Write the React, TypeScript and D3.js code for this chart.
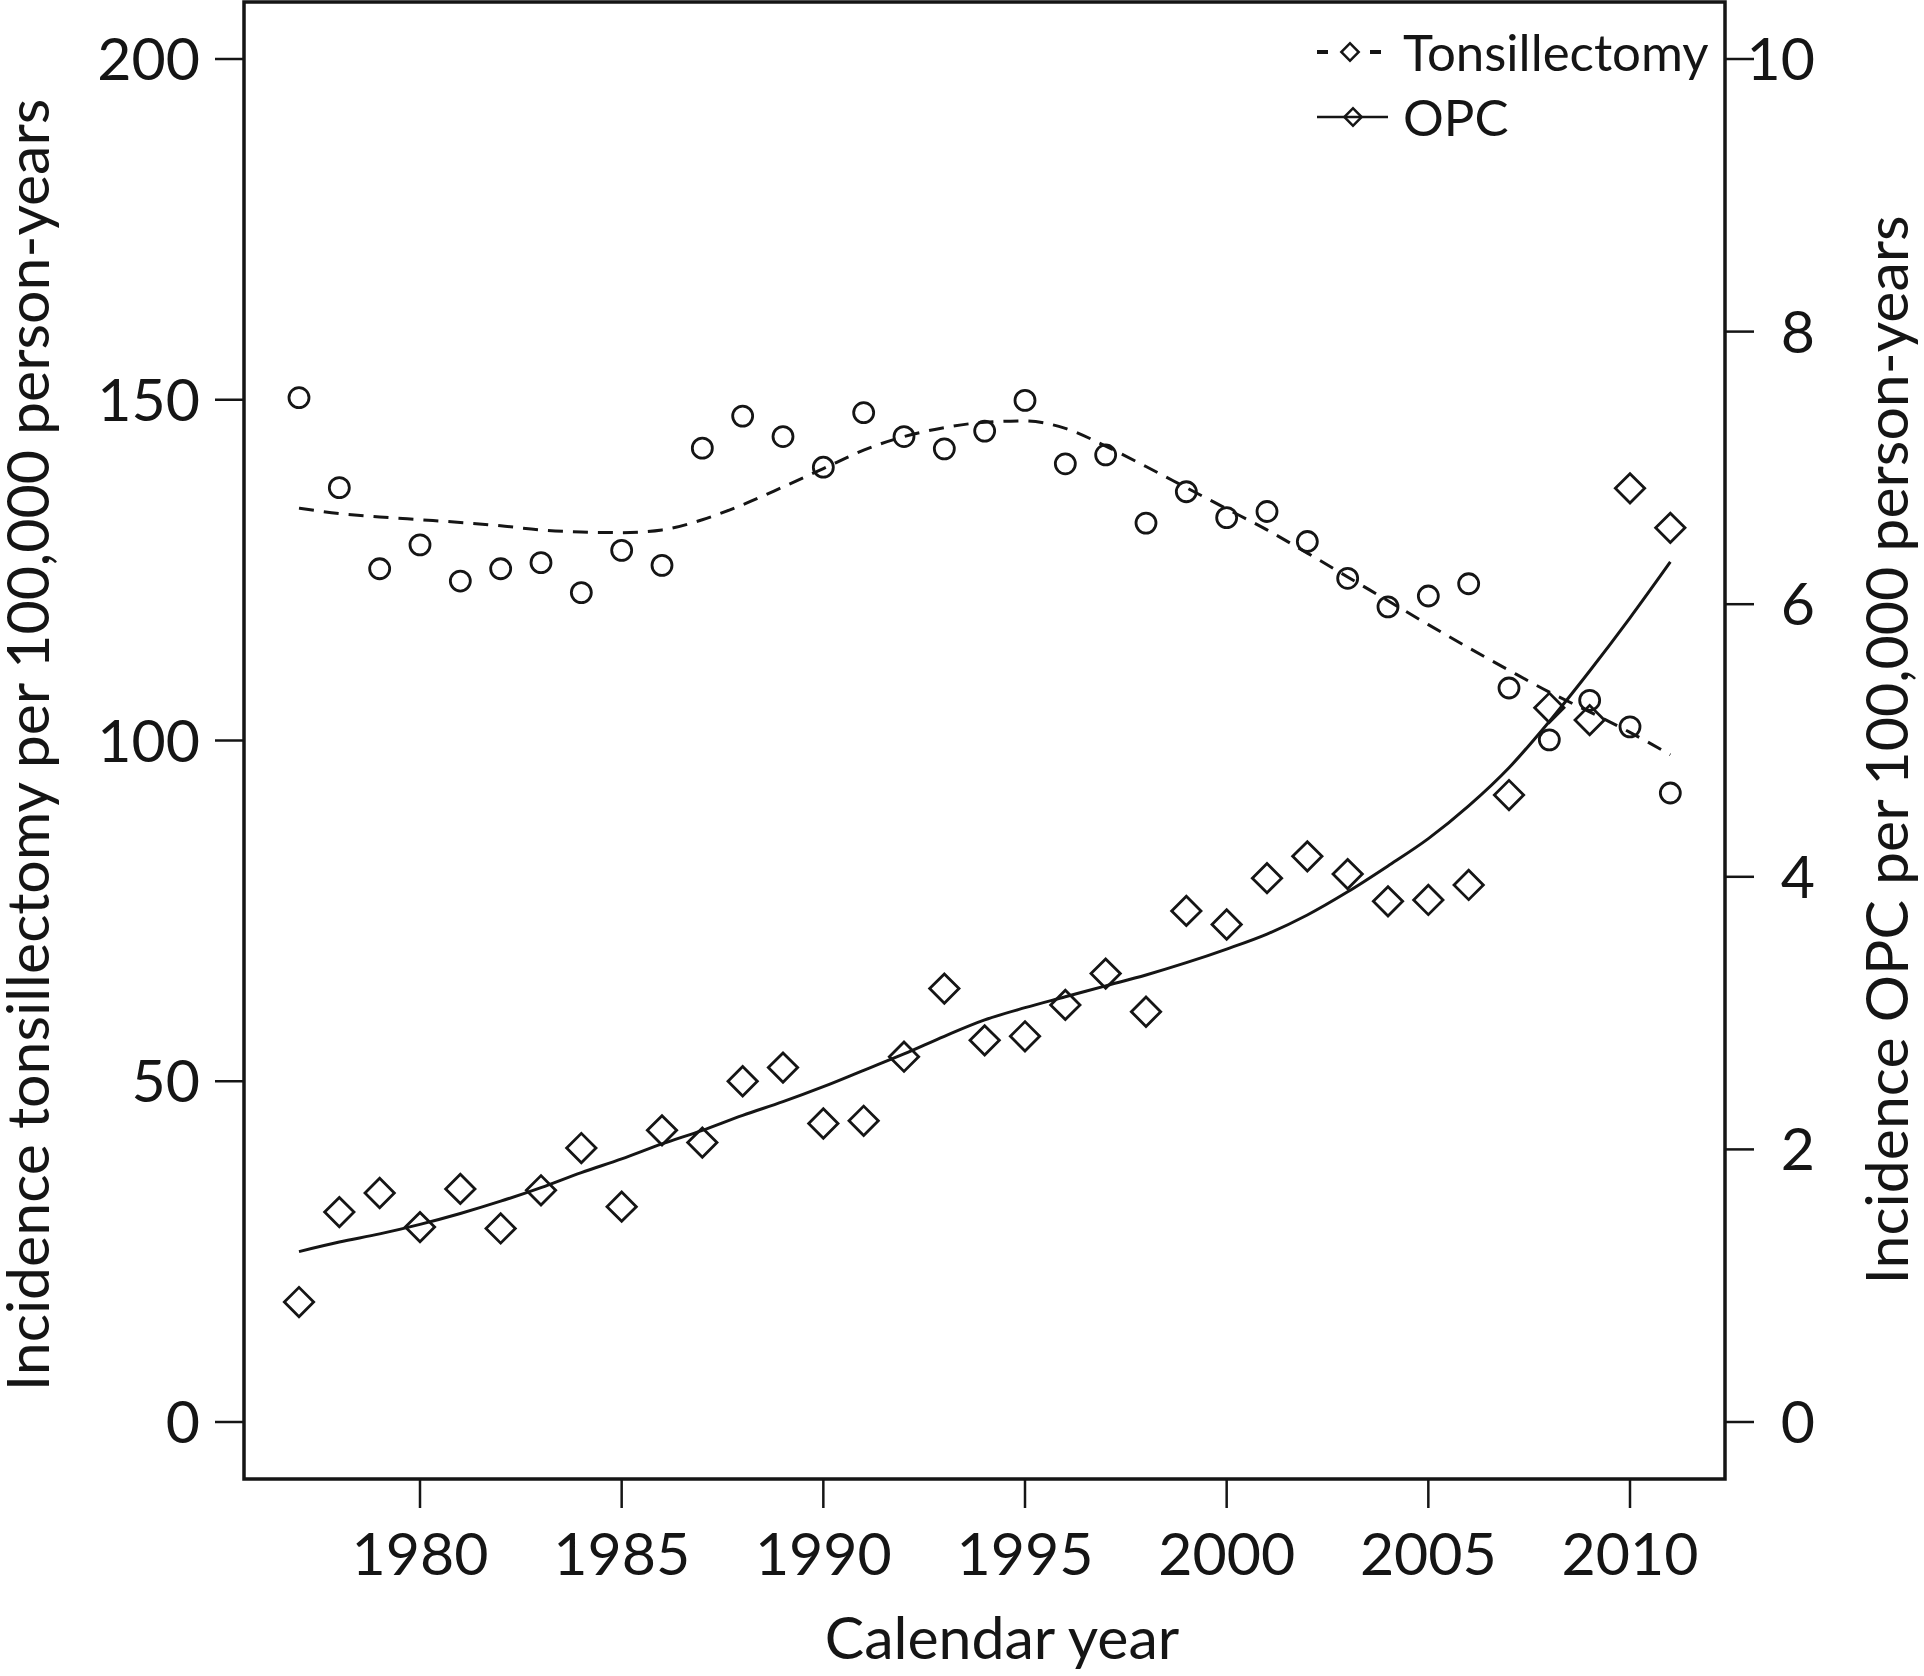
import React from 'react';
import * as d3 from 'd3';

const years = [1977, 1978, 1979, 1980, 1981, 1982, 1983, 1984, 1985, 1986, 1987, 1988, 1989, 1990, 1991, 1992, 1993, 1994, 1995, 1996, 1997, 1998, 1999, 2000, 2001, 2002, 2003, 2004, 2005, 2006, 2007, 2008, 2009, 2010, 2011];

// Tonsillectomy incidence per 100,000 person-years (left axis)
const tonsilObserved = [150.3, 137.1, 125.2, 128.7, 123.4, 125.2, 126.1, 121.7, 127.9, 125.7, 142.9, 147.6, 144.6, 140.1, 148.1, 144.6, 142.8, 145.4, 149.9, 140.6, 141.9, 131.9, 136.5, 132.7, 133.6, 129.2, 123.8, 119.6, 121.2, 123.0, 107.7, 100.1, 105.9, 102.0, 92.3];
const tonsilSmooth = [134.1, 133.3, 132.8, 132.4, 132.0, 131.5, 130.9, 130.6, 130.5, 130.9, 132.4, 134.6, 137.2, 139.9, 142.6, 144.6, 145.9, 146.7, 146.9, 145.8, 143.2, 140.2, 137.1, 134.0, 130.9, 127.5, 124.0, 120.5, 117.0, 113.6, 110.3, 107.1, 104.2, 101.2, 97.9];

// OPC incidence per 100,000 person-years (right axis)
const opcObserved = [0.88, 1.54, 1.68, 1.43, 1.71, 1.42, 1.70, 2.01, 1.58, 2.14, 2.05, 2.50, 2.60, 2.19, 2.21, 2.68, 3.18, 2.80, 2.83, 3.06, 3.29, 3.01, 3.75, 3.65, 3.99, 4.15, 4.02, 3.82, 3.83, 3.94, 4.60, 5.24, 5.15, 6.85, 6.56];
const opcSmooth = [1.25, 1.32, 1.38, 1.45, 1.53, 1.62, 1.72, 1.83, 1.93, 2.04, 2.14, 2.25, 2.35, 2.46, 2.58, 2.70, 2.83, 2.95, 3.04, 3.12, 3.20, 3.28, 3.37, 3.47, 3.58, 3.72, 3.89, 4.08, 4.28, 4.52, 4.80, 5.14, 5.51, 5.90, 6.31];

const xTicks = [1980, 1985, 1990, 1995, 2000, 2005, 2010];
const leftTicks = [0, 50, 100, 150, 200];
const rightTicks = [0, 2, 4, 6, 8, 10];

const xTitle = 'Calendar year';
const leftTitle = 'Incidence tonsillectomy per 100,000 person-years';
const rightTitle = 'Incidence OPC per 100,000 person-years';
const legendLabels = ['Tonsillectomy', 'OPC'];

export default function App() {
  const W = 1924, H = 1676;
  const frame = { left: 244, right: 1725, top: 2, bottom: 1479 };
  const x = d3.scaleLinear().domain([1980, 2010]).range([420, 1630]);
  const yL = d3.scaleLinear().domain([0, 200]).range([1422, 59]);
  const yR = d3.scaleLinear().domain([0, 10]).range([1422, 59]);

  const ink = '#151515';
  const font = 'Lato, "Open Sans", sans-serif';
  const fs = 59;
  const tick = 29;

  const tonsilLine = d3.line<number>()
    .x((_, i) => x(years[i]))
    .y((d) => yL(d))
    .curve(d3.curveMonotoneX)(tonsilSmooth) || '';
  const opcLine = d3.line<number>()
    .x((_, i) => x(years[i]))
    .y((d) => yR(d))
    .curve(d3.curveMonotoneX)(opcSmooth) || '';

  const diamond = d3.symbol(d3.symbolSquare, 430)() || '';
  const smallDiamond = d3.symbol(d3.symbolSquare, 150)() || '';

  return (
    <svg width={W} height={H} style={{ position: 'absolute', left: 0, top: 0, background: '#fff' }}
      fontFamily={font} fill={ink}>
      <rect x={0} y={0} width={W} height={H} fill="#fff" />

      {/* smooth lines */}
      <path d={tonsilLine} fill="none" stroke={ink} strokeWidth={3} strokeDasharray="15 10" />
      <path d={opcLine} fill="none" stroke={ink} strokeWidth={3} />

      {/* tonsillectomy circles */}
      {tonsilObserved.map((v, i) => (
        <circle key={'t' + i} cx={x(years[i])} cy={yL(v)} r={10} fill="none" stroke={ink} strokeWidth={2.8} />
      ))}
      {/* OPC diamonds */}
      {opcObserved.map((v, i) => (
        <path key={'o' + i} d={diamond} transform={`translate(${x(years[i])},${yR(v)}) rotate(45)`}
          fill="none" stroke={ink} strokeWidth={2.8} />
      ))}

      {/* frame */}
      <rect x={frame.left} y={frame.top} width={frame.right - frame.left} height={frame.bottom - frame.top}
        fill="none" stroke={ink} strokeWidth={3.5} />

      {/* x axis */}
      {xTicks.map((t) => (
        <g key={'x' + t}>
          <line x1={x(t)} x2={x(t)} y1={frame.bottom} y2={frame.bottom + tick} stroke={ink} strokeWidth={2.5} />
          <text x={x(t)} y={1575} textAnchor="middle" fontSize={fs}>{t}</text>
        </g>
      ))}
      <text x={1002} y={1659} textAnchor="middle" fontSize={fs}>{xTitle}</text>

      {/* left axis */}
      {leftTicks.map((t) => (
        <g key={'l' + t}>
          <line x1={frame.left - tick} x2={frame.left} y1={yL(t)} y2={yL(t)} stroke={ink} strokeWidth={2.5} />
          <text x={200} y={yL(t) + 21} textAnchor="end" fontSize={fs}>{t}</text>
        </g>
      ))}
      <text transform={`translate(49,745) rotate(-90)`} textAnchor="middle" fontSize={fs}>{leftTitle}</text>

      {/* right axis */}
      {rightTicks.map((t) => (
        <g key={'r' + t}>
          <line x1={frame.right} x2={frame.right + tick} y1={yR(t)} y2={yR(t)} stroke={ink} strokeWidth={2.5} />
          <text x={1815} y={yR(t) + 21} textAnchor="end" fontSize={fs}>{t}</text>
        </g>
      ))}
      <text transform={`translate(1908,750) rotate(-90)`} textAnchor="middle" fontSize={fs}>{rightTitle}</text>

      {/* legend */}
      <g>
        <line x1={1317} x2={1328} y1={52} y2={52} stroke={ink} strokeWidth={4} />
        <line x1={1370} x2={1381} y1={52} y2={52} stroke={ink} strokeWidth={4} />
        <path d={smallDiamond} transform="translate(1350,52) rotate(45)" fill="none" stroke={ink} strokeWidth={2.5} />
        <text x={1403} y={71} fontSize={51}>{legendLabels[0]}</text>
        <line x1={1317} x2={1388} y1={117} y2={117} stroke={ink} strokeWidth={2.5} />
        <path d={smallDiamond} transform="translate(1353,117) rotate(45)" fill="none" stroke={ink} strokeWidth={2.5} />
        <text x={1403} y={136} fontSize={51}>{legendLabels[1]}</text>
      </g>
    </svg>
  );
}
